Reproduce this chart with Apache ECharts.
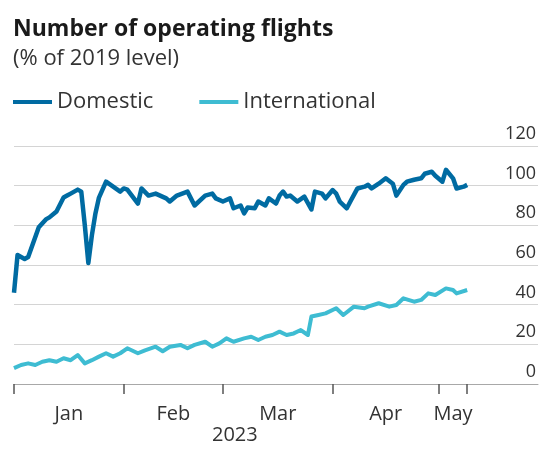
<!DOCTYPE html>
<html>
<head>
<meta charset="utf-8">
<script src="https://cdn.jsdelivr.net/npm/echarts@6/dist/echarts.min.js"></script>
<style>
  html, body { margin: 0; padding: 0; background: #fff; }
  #chart { width: 542px; height: 451px; }
</style>
</head>
<body>
<div id="chart"></div>
<script>
// day index: 0 = Jan 1st 2023
const domesticDays = [0, 1, 3, 4, 7, 9, 10, 12, 14, 15, 16, 18, 19, 20, 21, 22, 23, 24, 26, 28, 30, 31, 32, 35, 36, 38, 40, 43, 44, 46, 49, 51, 54, 56, 57, 59, 61, 62, 64, 65, 66, 68, 69, 71, 72, 74, 75, 76, 77, 78, 80, 82, 84, 85, 87, 88, 90, 91, 92, 94, 95, 97, 99, 100, 101, 103, 105, 107, 108, 110, 111, 113, 115, 116, 118, 119, 121, 122, 124, 125, 127, 128];
const domesticVals = [46, 65, 63, 64, 79, 83, 84, 87, 94, 95, 96, 98, 97, 80, 61, 75, 86, 94, 102, 99.5, 97, 98.6, 98, 91, 98.6, 95, 96, 93.6, 92, 95, 97, 90, 95, 96, 93.6, 92, 93.6, 88.6, 90, 86, 89, 88.6, 92, 90, 93.6, 91, 95, 97, 94.5, 95, 92, 94.5, 88, 97, 96, 93.6, 97.8, 96, 92, 88.6, 92, 98.6, 99.5, 100.4, 98.6, 101, 103.7, 101, 95, 100.4, 102, 103, 103.7, 106, 107, 105, 102, 108, 103.7, 98.6, 99.5, 100.4];

const intlDays = [0, 2, 4, 6, 8, 10, 12, 14, 16, 18, 20, 22, 24, 26, 28, 30, 32, 35, 37, 40, 42, 44, 47, 49, 51, 54, 56, 58, 60, 62, 65, 67, 69, 71, 73, 75, 77, 79, 81, 83, 84, 86, 88, 91, 93, 96, 99, 100, 103, 106, 108, 110, 113, 115, 117, 119, 122, 124, 125, 128];
const intlVals = [8, 9.6, 10.4, 9.6, 11.2, 12, 11.2, 13, 12, 14.6, 10.4, 12, 13.8, 15.5, 13.8, 15.5, 18, 15.5, 17, 18.8, 16.5, 18.8, 19.7, 18, 19.7, 21.3, 18.8, 20.5, 23, 21.3, 23, 23.8, 22.2, 23.8, 24.7, 26.4, 24.7, 25.5, 27.2, 24.7, 34, 34.8, 35.6, 38.2, 34.8, 39, 38.2, 39, 40.7, 39, 39.8, 43.2, 41.5, 42.4, 45.7, 44.9, 48.2, 47.4, 45.7, 47.4];

// month boundaries (Jan 1, Feb 1, Mar 1, Apr 1, May 1, last day shown)
const monthTicks = [0, 31, 59, 90, 120, 128];
const monthLabels = ["Jan", "Feb", "Mar", "Apr", "May"];
const monthLabelPos = [15.5, 45, 74.5, 105, 124];

const FONT = "Open Sans";

const chart = echarts.init(document.getElementById("chart"));

const option = {
  backgroundColor: "#fff",
  animation: false,
  title: {
    text: "Number of operating flights",
    subtext: "(% of 2019 level)",
    left: 8,
    top: 10,
    itemGap: 3,
    textStyle: { fontFamily: FONT, fontWeight: "bold", fontSize: 23, lineHeight: 28, color: "#1a1a1a" },
    subtextStyle: { fontFamily: FONT, fontSize: 22, lineHeight: 26, color: "#333" },
  },
  legend: {
    left: 8,
    top: 86,
    icon: "rect",
    itemWidth: 39,
    itemHeight: 4,
    itemGap: 46,
    itemStyle: { borderWidth: 0 },
    textStyle: { fontFamily: FONT, fontSize: 22, color: "#333" },
    data: ["Domestic", "International"],
  },
  grid: { left: 14, right: 4, top: 146, bottom: 67 },
  xAxis: {
    type: "value",
    min: 0,
    max: 148,
    axisLine: { show: true, lineStyle: { color: "#a8a8a8", width: 1 } },
    axisTick: {
      show: true,
      customValues: monthTicks,
      length: 10,
      lineStyle: { color: "#555", width: 1.5 },
    },
    axisLabel: {
      customValues: monthLabelPos,
      formatter: (v) => monthLabels[monthLabelPos.indexOf(v)] || "",
      margin: 20,
      fontFamily: FONT,
      fontSize: 20,
      color: "#333",
    },
    splitLine: { show: false },
  },
  yAxis: {
    type: "value",
    position: "right",
    min: 0,
    max: 120,
    interval: 20,
    axisLine: { show: false },
    axisTick: { show: false },
    axisLabel: {
      inside: true,
      margin: 2,
      verticalAlign: "bottom",
      padding: [0, 0, 3, 0],
      fontFamily: FONT,
      fontSize: 18,
      color: "#333",
    },
    splitLine: { lineStyle: { color: "#d4d4d4", width: 1 } },
  },
  graphic: [
    {
      type: "text",
      left: 212,
      top: 425,
      style: { text: "2023", font: "20px 'Open Sans'", fill: "#333" },
    },
  ],
  series: [
    {
      name: "Domestic",
      type: "line",
      data: domesticDays.map((d, i) => [d, domesticVals[i]]),
      showSymbol: false,
      lineStyle: { color: "#006BA2", width: 4.5, join: "round" },
      itemStyle: { color: "#006BA2" },
      z: 3,
    },
    {
      name: "International",
      type: "line",
      data: intlDays.map((d, i) => [d, intlVals[i]]),
      showSymbol: false,
      lineStyle: { color: "#3EBCD2", width: 4, join: "round" },
      itemStyle: { color: "#3EBCD2" },
      z: 2,
    },
  ],
};

chart.setOption(option);
</script>
</body>
</html>
